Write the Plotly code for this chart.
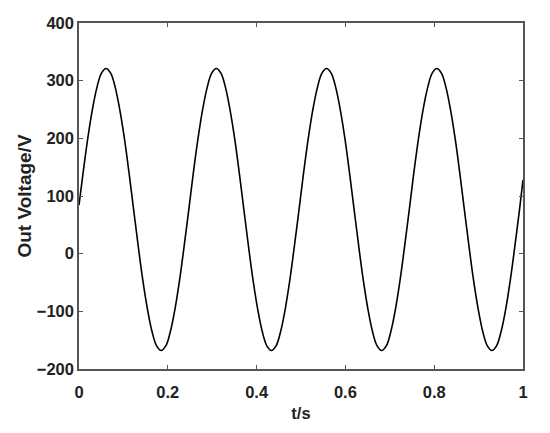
import plotly.graph_objects as go

# Points (t in s, voltage in V)
t_s = [0.0, 0.0092, 0.0196, 0.0299, 0.0403, 0.0506, 0.061, 0.0713, 0.0817, 0.092,
       0.1024, 0.1127, 0.1231, 0.1334, 0.1437, 0.1541, 0.1644, 0.1748, 0.1851, 0.1955,
       0.2058, 0.2162, 0.2265, 0.2368,
       0.2472, 0.2575, 0.2679, 0.2782, 0.2886, 0.2989, 0.3093, 0.3196, 0.33, 0.3403,
       0.3507, 0.361, 0.3714, 0.3817, 0.392, 0.4024, 0.4127, 0.4231, 0.4334, 0.4438,
       0.4541, 0.4645, 0.4748, 0.4851,
       0.4955, 0.5058, 0.5162, 0.5265, 0.5369, 0.5472, 0.5576, 0.5679, 0.5783, 0.5886,
       0.599, 0.6093, 0.6197, 0.63, 0.6403, 0.6507, 0.661, 0.6714, 0.6817, 0.6921,
       0.7024, 0.7128, 0.7231, 0.7334,
       0.7438, 0.7541, 0.7645, 0.7748, 0.7852, 0.7955, 0.8059, 0.8162, 0.8266, 0.8369,
       0.8473, 0.8576, 0.868, 0.8783, 0.8886, 0.899, 0.9093, 0.9197, 0.93, 0.9404,
       0.9507, 0.9611, 0.9714, 0.9817,
       0.9921, 1.0]
volts = [84, 140, 199, 249, 288, 313, 321, 313, 288, 249,
         199, 140, 76, 13, -46, -96, -135, -160, -168, -160,
         -135, -96, -46, 13,
         76, 140, 199, 249, 288, 313, 321, 313, 288, 249,
         199, 140, 76, 13, -46, -96, -135, -160, -168, -160,
         -135, -96, -46, 13,
         76, 140, 199, 249, 288, 313, 321, 313, 288, 249,
         199, 140, 76, 13, -46, -96, -135, -160, -168, -160,
         -135, -96, -46, 13,
         76, 140, 199, 249, 288, 313, 321, 313, 288, 249,
         199, 140, 76, 13, -46, -96, -135, -160, -168, -160,
         -135, -96, -46, 13,
         76, 128]

x_ticks = [0, 0.2, 0.4, 0.6, 0.8, 1]
x_labels = ['0', '0.2', '0.4', '0.6', '0.8', '1']
y_ticks = [-200, -100, 0, 100, 200, 300, 400]

FONT = 'Liberation Sans, Arial'

fig = go.Figure()
fig.add_trace(go.Scatter(
    x=t_s, y=volts, mode='lines',
    line=dict(color='black', width=1.6, shape='spline', smoothing=1.0),
    showlegend=False
))

axis_common = dict(
    showline=True, linecolor='#555555', linewidth=1.5, mirror='ticks',
    ticks='inside', ticklen=4, tickcolor='#555555', tickwidth=1,
    showgrid=False, zeroline=False, automargin=False,
    tickfont=dict(family=FONT, size=16.5, color='#222222', weight='bold'),
)

# page body has an 8px margin, so the figure is a little smaller and shifted
fig.update_layout(
    width=542, height=425,
    margin=dict(l=71, r=27, t=15, b=64),
    paper_bgcolor='white', plot_bgcolor='white',
    xaxis=dict(
        range=[0, 1], tickvals=x_ticks, ticktext=x_labels, ticklabelstandoff=7,
        title=dict(text='t/s', standoff=8,
                   font=dict(family=FONT, size=16.5, color='#222222', weight='bold')),
        **axis_common
    ),
    yaxis=dict(
        range=[-200, 400], tickvals=y_ticks,
        title=dict(text='Out Voltage/V', standoff=0,
                   font=dict(family=FONT, size=19, color='#222222', weight='bold')),
        **axis_common
    ),
)

fig.write_html("out.html")
